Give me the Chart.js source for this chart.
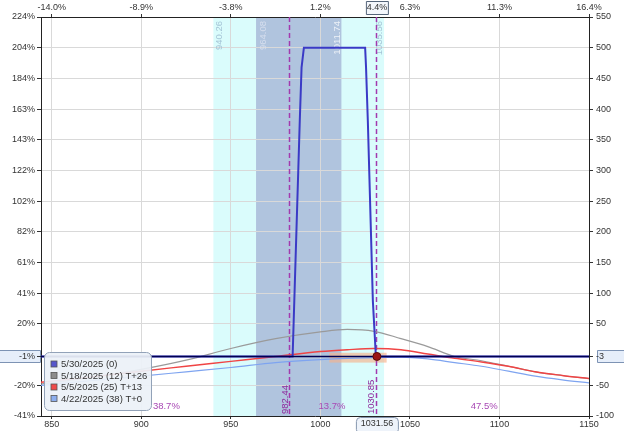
<!DOCTYPE html>
<html>
<head>
<meta charset="utf-8">
<script src="https://cdn.jsdelivr.net/npm/chart.js@4.4.1/dist/chart.umd.min.js"></script>
<style>
html, body { margin: 0; padding: 0; background: #fff; overflow: hidden; }
#wrap { position: relative; width: 624px; height: 431px; }
</style>
</head>
<body>
<div id="wrap"><canvas id="riskChart"></canvas></div>
<script>
// price grid for the T+ curves
const prices = [844, 870, 900, 925, 950, 975, 1000, 1015, 1030, 1045, 1060, 1075, 1090, 1105, 1120, 1135, 1150];
const plMay18 = [-48, -38, -24, -9, 10, 26, 37, 41, 38, 26, 13, -3, -10, -19, -28, -34, -39];
const plMay5 = [-45, -37, -27, -19, -11, -3, 5, 8, 10, 8, 1, -6, -12, -19, -28, -34, -39];
const plApr22 = [-50, -43, -35, -28, -21, -13, -8, -6, -5, -4, -7, -13, -19, -27, -35, -41, -46];

// expiration curve
const expiryPrices = [844, 984.5, 988.5, 989.5, 990.8, 1025, 1025.5, 1026.5, 1029.3, 1031, 1150];
const plExpiry = [-3, -3, 381, 468, 500, 500, 468, 381, 88, -3, -3];

const seriesNames = ['5/30/2025 (0)', '5/18/2025 (12) T+26', '5/5/2025 (25) T+13', '4/22/2025 (38) T+0'];

const xTicks = [850, 900, 950, 1000, 1050, 1100, 1150];
const topLabels = ['-14.0%', '-8.9%', '-3.8%', '1.2%', '6.3%', '11.3%', '16.4%'];
const yTicks = [-100, -50, -3, 50, 100, 150, 200, 250, 300, 350, 400, 450, 500, 550];
const leftLabels = ['-41%', '-20%', '-1%', '20%', '41%', '61%', '82%', '102%', '122%', '143%', '163%', '184%', '204%', '224%'];

const spot = 1031.56;
const spotPct = '4.4%';
const currentPL = -3;
const outerBand = [940.26, 1035.56];
const innerBand = [964.08, 1011.74];
const breakevens = [982.44, 1030.85];
const probLabels = ['38.7%', '13.7%', '47.5%'];
const probAt = [914, 1006.5, 1091.5];
const orangeRange = [1005, 1037];
const orangeVals = [3, -13];

const pts = (xs, ys) => xs.map((v, i) => ({ x: v, y: ys[i] }));

function box(ctx, x, y, w, h, r, fill, stroke) {
  ctx.beginPath();
  ctx.roundRect(x + 0.5, y + 0.5, w, h, r);
  ctx.fillStyle = fill;
  ctx.fill();
  ctx.strokeStyle = stroke;
  ctx.lineWidth = 1;
  ctx.stroke();
}

const FONT = '"Liberation Sans", Arial, sans-serif';

const overlay = {
  id: 'overlay',
  beforeDraw(chart) {
    const { ctx, chartArea: a, scales: { x, yR } } = chart;
    ctx.save();
    const band = (r, c) => {
      const x0 = x.getPixelForValue(r[0]), x1 = x.getPixelForValue(r[1]);
      ctx.fillStyle = c;
      ctx.fillRect(x0, a.top, x1 - x0, a.bottom - a.top);
    };
    band(outerBand, '#dafcfc');
    band(innerBand, '#b0c4de');
    const yc = Math.round(yR.getPixelForValue(currentPL));
    box(ctx, -2, yc - 6, a.left + 1, 12, 0, '#e6eefa', '#7d93b4');
    box(ctx, a.right + 8, yc - 6, 40, 12, 0, '#e6eefa', '#7d93b4');
    ctx.restore();
  },
  beforeDatasetsDraw(chart) {
    const { ctx, chartArea: a, scales: { x, yR } } = chart;
    ctx.save();
    // band labels
    ctx.font = '9.5px ' + FONT;
    ctx.textAlign = 'right';
    ctx.textBaseline = 'middle';
    const vlab = (v, dx, c) => {
      ctx.save();
      ctx.translate(x.getPixelForValue(v) + dx, a.top + 4);
      ctx.rotate(-Math.PI / 2);
      ctx.fillStyle = c;
      ctx.fillText(v.toFixed(2), 0, 0);
      ctx.restore();
    };
    vlab(outerBand[0], 6, '#a4c4d6');
    vlab(innerBand[0], 7, '#d6deee');
    vlab(innerBand[1], -4.5, '#eef2f8');
    vlab(outerBand[1], -4.5, '#a4c4d6');

    // orange range
    const ox0 = x.getPixelForValue(orangeRange[0]), ox1 = x.getPixelForValue(orangeRange[1]);
    const oy0 = yR.getPixelForValue(orangeVals[0]), oy1 = yR.getPixelForValue(orangeVals[1]);
    ctx.fillStyle = 'rgba(246, 178, 140, 0.65)';
    ctx.fillRect(ox0, oy0, ox1 - ox0, oy1 - oy0);

    // breakeven lines
    ctx.strokeStyle = '#a23aae';
    ctx.lineWidth = 1.5;
    ctx.setLineDash([5, 3]);
    breakevens.forEach(v => {
      const px = Math.round(x.getPixelForValue(v)) + 0.5;
      ctx.beginPath();
      ctx.moveTo(px, a.top);
      ctx.lineTo(px, a.bottom);
      ctx.stroke();
    });
    ctx.setLineDash([]);
    ctx.font = '9.5px ' + FONT;
    ctx.fillStyle = '#8e2a9c';
    ctx.textAlign = 'left';
    breakevens.forEach(v => {
      ctx.save();
      ctx.translate(x.getPixelForValue(v) - 4, a.bottom - 2);
      ctx.rotate(-Math.PI / 2);
      ctx.fillText(v.toFixed(2), 0, 0);
      ctx.restore();
    });

    // probabilities
    ctx.font = '9.5px ' + FONT;
    ctx.textAlign = 'center';
    ctx.fillStyle = '#a848b4';
    probLabels.forEach((t, i) => ctx.fillText(t, x.getPixelForValue(probAt[i]), a.bottom - 10));
    ctx.restore();
  },
  afterDraw(chart) {
    const { ctx, chartArea: a, scales: { x } } = chart;
    ctx.save();
    ctx.font = '9px ' + FONT;
    ctx.textAlign = 'center';
    ctx.textBaseline = 'middle';
    const sx = x.getPixelForValue(spot);
    box(ctx, sx - 11, 1, 22, 13, 0, '#f4f7fc', '#55657a');
    ctx.fillStyle = '#333';
    ctx.fillText(spotPct, sx, 8);
    box(ctx, sx - 21, a.bottom + 1, 42, 16, 4, '#eef3fa', '#8696ae');
    ctx.fillStyle = '#333';
    ctx.fillText(spot.toFixed(2), sx, a.bottom + 8);

    // legend
    const lx = a.left + 3, ly = a.bottom - 64;
    box(ctx, lx, ly, 107, 58, 5, 'rgba(236, 241, 248, 0.93)', '#92a2b8');
    const swatch = ['#5757cc', '#8c8c8c', '#f04a4a', '#8caeee'];
    ctx.font = '9.5px ' + FONT;
    ctx.textAlign = 'left';
    seriesNames.forEach((n, i) => {
      const yy = ly + 12 + i * 11.5;
      ctx.fillStyle = swatch[i];
      ctx.fillRect(lx + 7, yy - 3, 6, 6);
      ctx.strokeStyle = '#555';
      ctx.lineWidth = 0.8;
      ctx.strokeRect(lx + 7, yy - 3, 6, 6);
      ctx.fillStyle = '#333';
      ctx.fillText(n, lx + 17, yy + 0.5);
    });
    ctx.restore();
  }
};

Chart.defaults.font.family = FONT;
Chart.defaults.font.size = 9;
Chart.defaults.color = '#333';

const fixTicks = list => scale => { scale.ticks = list.map(v => ({ value: v })); };
const axes = { xAxisID: 'x', yAxisID: 'yR' };

new Chart(document.getElementById('riskChart'), {
  type: 'line',
  data: {
    datasets: [
      { ...axes, label: 'spot', type: 'scatter', data: [{ x: spot, y: currentPL }], pointRadius: 4, pointBackgroundColor: '#9b1414', pointBorderColor: '#5a0a0a', pointBorderWidth: 1, order: 0 },
      { ...axes, label: 'pl', data: [{ x: prices[0], y: currentPL }, { x: prices[prices.length - 1], y: currentPL }], borderColor: '#000050', borderWidth: 1.6, pointRadius: 0, order: 1 },
      { ...axes, label: seriesNames[0], data: pts(expiryPrices, plExpiry), borderColor: '#3a3ac6', borderWidth: 2, pointRadius: 0, tension: 0, order: 2 },
      { ...axes, label: seriesNames[2], data: pts(prices, plMay5), borderColor: '#f04444', borderWidth: 1.4, pointRadius: 0, cubicInterpolationMode: 'monotone', order: 3 },
      { ...axes, label: seriesNames[3], data: pts(prices, plApr22), borderColor: '#7ea4f0', borderWidth: 1.2, pointRadius: 0, cubicInterpolationMode: 'monotone', order: 4 },
      { ...axes, label: seriesNames[1], data: pts(prices, plMay18), borderColor: '#9a9a9a', borderWidth: 1.2, pointRadius: 0, cubicInterpolationMode: 'monotone', order: 5 }
    ]
  },
  options: {
    responsive: true,
    maintainAspectRatio: false,
    animation: false,
    events: [],
    layout: { padding: 0 },
    plugins: { legend: { display: false }, tooltip: { enabled: false } },
    scales: {
      x: {
        type: 'linear', position: 'bottom', min: 844, max: 1150,
        afterBuildTicks: fixTicks(xTicks),
        afterFit: s => { s.height = 15; },
        grid: { color: '#d9d9d9', tickLength: 3, tickColor: '#333' },
        border: { color: '#222' },
        ticks: { padding: 0, maxRotation: 0, callback: v => String(v) }
      },
      x2: {
        type: 'linear', position: 'top', min: 844, max: 1150,
        afterBuildTicks: fixTicks(xTicks),
        afterFit: s => { s.height = 17; },
        grid: { drawOnChartArea: false, tickLength: 3, tickColor: '#333' },
        border: { color: '#222' },
        ticks: { padding: 1, maxRotation: 0, callback: (v, i) => topLabels[i] }
      },
      yR: {
        type: 'linear', position: 'right', min: -100, max: 550,
        afterBuildTicks: fixTicks(yTicks),
        afterFit: s => { s.width = 35; },
        grid: { color: c => c.tick && c.tick.value === currentPL ? 'rgba(0,0,0,0)' : '#d9d9d9', tickLength: 4, tickColor: '#333' },
        border: { color: '#222' },
        ticks: { padding: 3, callback: v => String(v) }
      },
      yL: {
        type: 'linear', position: 'left', min: -100, max: 550,
        afterBuildTicks: fixTicks(yTicks),
        afterFit: s => { s.width = 41; },
        grid: { drawOnChartArea: false, tickLength: 4, tickColor: '#333' },
        border: { color: '#222' },
        ticks: { padding: 2, callback: (v, i) => leftLabels[i] }
      }
    }
  },
  plugins: [overlay]
});
</script>
</body>
</html>
